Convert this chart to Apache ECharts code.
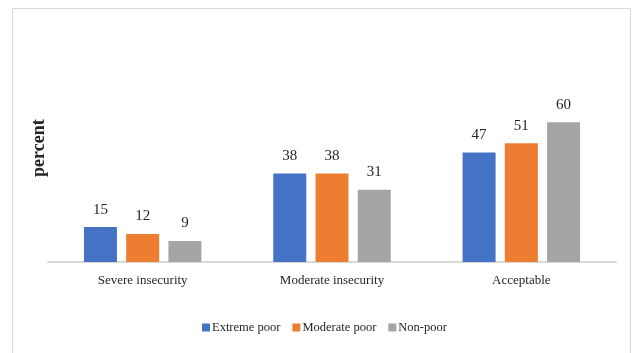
<!DOCTYPE html>
<html>
<head>
<meta charset="utf-8">
<script src="https://cdn.jsdelivr.net/npm/echarts@6/dist/echarts.min.js"></script>
<style>
  html, body { margin: 0; padding: 0; background: #fff; }
  #chart { width: 633px; height: 353px; }
</style>
</head>
<body>
<div id="chart"></div>
<script>
// chart data
const categories = ['Severe insecurity', 'Moderate insecurity', 'Acceptable'];
const extremePoor = [15, 38, 47];
const moderatePoor = [12, 38, 51];
const nonPoor = [9, 31, 60];
const seriesNames = ['Extreme poor', 'Moderate poor', 'Non-poor'];
const colors = ['#4472C4', '#ED7D31', '#A5A5A5'];

const fontFamily = '"Liberation Serif", "Times New Roman", serif';

function makeBar(name, data, color) {
  return {
    type: 'bar',
    name,
    data,
    barWidth: 33,
    barGap: '28%',
    itemStyle: { color },
    label: {
      show: true,
      position: 'top',
      distance: 10,
      color: '#262626',
      fontSize: 15,
      fontFamily
    }
  };
}

const chart = echarts.init(document.getElementById('chart'));
chart.setOption({
  animation: false,
  graphic: [
    {
      type: 'rect',
      shape: { x: 12.5, y: 8.5, width: 618, height: 360 },
      style: { fill: 'none', stroke: '#d9d9d9', lineWidth: 1 },
      silent: true
    },
    {
      type: 'text',
      x: 30,
      y: 177,
      rotation: Math.PI / 2,
      style: {
        text: 'percent',
        fontFamily,
        fontWeight: 'bold',
        fontSize: 18,
        fill: '#262626'
      }
    }
  ],
  grid: {
    left: 48,
    right: 17,
    top: 99,
    bottom: 91,
    containLabel: false
  },
  legend: {
    data: seriesNames,
    top: 316,
    left: 197,
    itemWidth: 8,
    itemHeight: 8,
    itemGap: 12,
    icon: 'rect',
    textStyle: {
      color: '#262626',
      fontSize: 12.5,
      fontFamily,
      padding: [0, 0, 0, -3]
    }
  },
  xAxis: {
    type: 'category',
    data: categories,
    axisLine: { lineStyle: { color: '#d9d9d9', width: 2 } },
    axisTick: { show: false },
    axisLabel: {
      margin: 12,
      color: '#262626',
      fontSize: 13,
      fontFamily
    }
  },
  yAxis: {
    type: 'value',
    min: 0,
    max: 70,
    show: false,
    splitLine: { show: false }
  },
  series: [
    makeBar(seriesNames[0], extremePoor, colors[0]),
    makeBar(seriesNames[1], moderatePoor, colors[1]),
    makeBar(seriesNames[2], nonPoor, colors[2])
  ]
});
</script>
</body>
</html>
